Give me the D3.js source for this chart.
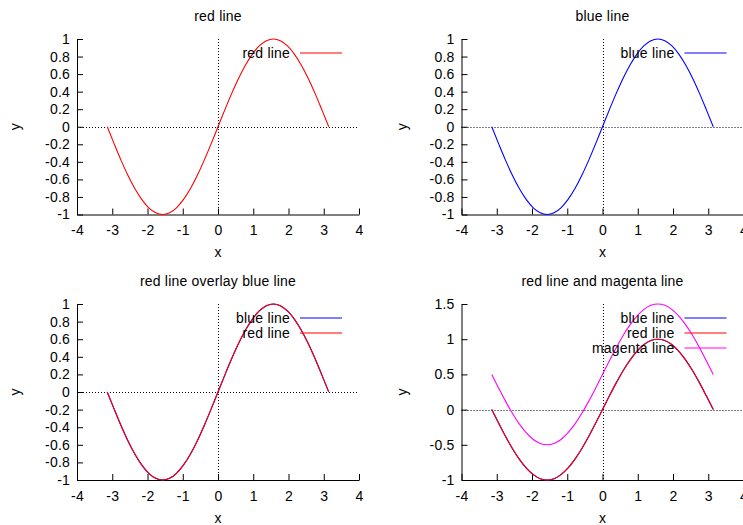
<!DOCTYPE html>
<meta charset="utf-8">
<script src="https://d3js.org/d3.v7.min.js"></script>
<style>
    body { margin: 0; background: white; }
    text { font-family: "Liberation Sans", Arial, sans-serif; font-size: 14px; letter-spacing: 0.2px; fill: #000; }
</style>
<div id="my_dataviz"></div>
<script>
    // sampled points of the curves (x from -pi to pi)
    var xVals = [-3.142, -2.945, -2.749, -2.553, -2.356, -2.160, -1.963, -1.767, -1.571, -1.374, -1.178, -0.982, -0.785, -0.589, -0.393, -0.196,
        0, 0.196, 0.393, 0.589, 0.785, 0.982, 1.178, 1.374, 1.571, 1.767, 1.963, 2.160, 2.356, 2.553, 2.749, 2.945, 3.142];
    var sinVals = [0, -0.195, -0.383, -0.556, -0.707, -0.831, -0.924, -0.981, -1, -0.981, -0.924, -0.831, -0.707, -0.556, -0.383, -0.195,
        0, 0.195, 0.383, 0.556, 0.707, 0.831, 0.924, 0.981, 1, 0.981, 0.924, 0.831, 0.707, 0.556, 0.383, 0.195, 0];
    var magentaVals = [0.5, 0.305, 0.117, -0.056, -0.207, -0.331, -0.424, -0.481, -0.5, -0.481, -0.424, -0.331, -0.207, -0.056, 0.117, 0.305,
        0.5, 0.695, 0.883, 1.056, 1.207, 1.331, 1.424, 1.481, 1.5, 1.481, 1.424, 1.331, 1.207, 1.056, 0.883, 0.695, 0.5];

    var titles = ["red line", "blue line", "red line overlay blue line", "red line and magenta line"];
    var xTicks = [-4, -3, -2, -1, 0, 1, 2, 3, 4];
    var yTicksA = [-1, -0.8, -0.6, -0.4, -0.2, 0, 0.2, 0.4, 0.6, 0.8, 1];
    var yTicksB = [-1, -0.5, 0, 0.5, 1, 1.5];

    var colors = { red: "#ff0000", blue: "#0000ff", magenta: "#ff00ff" };

    // one entry per panel: box in pixels, y domain, series to draw
    var panels = [
        { left: 77, right: 359, top: 39, bottom: 214.5, ylab: 15, yDomain: [-1, 1], yTicks: yTicksA,
          series: [{ name: "red line", color: colors.red, vals: sinVals }] },
        { left: 461.5, right: 743.5, top: 39, bottom: 214.5, ylab: 402, yDomain: [-1, 1], yTicks: yTicksA,
          series: [{ name: "blue line", color: colors.blue, vals: sinVals }] },
        { left: 77, right: 359, top: 304, bottom: 480, ylab: 15, yDomain: [-1, 1], yTicks: yTicksA,
          series: [{ name: "blue line", color: colors.blue, vals: sinVals },
                   { name: "red line", color: colors.red, vals: sinVals }] },
        { left: 461.5, right: 743.5, top: 304, bottom: 480, ylab: 402, yDomain: [-1, 1.5], yTicks: yTicksB,
          series: [{ name: "blue line", color: colors.blue, vals: sinVals },
                   { name: "red line", color: colors.red, vals: sinVals },
                   { name: "magenta line", color: colors.magenta, vals: magentaVals }] }
    ];

    var svg = d3.select("#my_dataviz")
        .append("svg")
        .attr("width", 743)
        .attr("height", 525);

    // gnuplot style labels: plain hyphen as minus sign
    var fmt = function(d) { return String(+d.toFixed(1)); };

    panels.forEach(function(p, i) {
        var x = d3.scaleLinear().domain([-4, 4]).range([p.left, p.right]);
        var y = d3.scaleLinear().domain(p.yDomain).range([p.bottom, p.top]);
        var g = svg.append("g");

        // title
        g.append("text")
            .attr("x", (p.left + p.right) / 2)
            .attr("y", p.top - 23)
            .attr("dy", "0.35em")
            .attr("text-anchor", "middle")
            .text(titles[i]);

        // zero axes (dotted)
        g.append("line")
            .attr("x1", p.left).attr("x2", p.right)
            .attr("y1", Math.round(y(0)) + 0.5).attr("y2", Math.round(y(0)) + 0.5)
            .style("stroke", "#000").style("stroke-dasharray", "1,2");
        g.append("line")
            .attr("x1", Math.round(x(0)) + 0.5).attr("x2", Math.round(x(0)) + 0.5)
            .attr("y1", p.top).attr("y2", p.bottom)
            .style("stroke", "#000").style("stroke-dasharray", "1,2");

        // axes, ticks pointing inward
        var xa = g.append("g")
            .attr("transform", "translate(0," + p.bottom + ")")
            .call(d3.axisBottom(x).tickValues(xTicks).tickSizeInner(-6).tickSizeOuter(0).tickPadding(11).tickFormat(fmt));
        var ya = g.append("g")
            .attr("transform", "translate(" + p.left + ",0)")
            .call(d3.axisLeft(y).tickValues(p.yTicks).tickSizeInner(-6).tickSizeOuter(0).tickPadding(7).tickFormat(fmt));
        [xa, ya].forEach(function(a) {
            a.selectAll("text").style("font-size", "14px").style("font-family", "Liberation Sans, Arial, sans-serif").style("fill", "#000");
            a.selectAll("line, path").style("stroke", "#000");
        });

        // axis labels
        g.append("text")
            .attr("x", (p.left + p.right) / 2)
            .attr("y", p.bottom + 38)
            .attr("dy", "0.35em")
            .attr("text-anchor", "middle")
            .text("x");
        g.append("text")
            .attr("transform", "translate(" + p.ylab + "," + (p.top + p.bottom) / 2 + ") rotate(-90)")
            .attr("dy", "0.35em")
            .attr("text-anchor", "middle")
            .text("y");

        // curves
        var line = d3.line()
            .x(function(d) { return x(d[0]); })
            .y(function(d) { return y(d[1]); })
            .curve(d3.curveMonotoneX);
        p.series.forEach(function(s) {
            var pts = xVals.map(function(v, k) { return [v, s.vals[k]]; });
            g.append("path")
                .datum(pts)
                .attr("d", line)
                .style("fill", "none")
                .style("stroke", s.color)
                .style("stroke-width", 1.1);
        });

        // legend
        p.series.forEach(function(s, k) {
            var ly = p.top + 14 + k * 15;
            g.append("text")
                .attr("x", p.right - 69)
                .attr("y", ly)
                .attr("dy", "0.35em")
                .attr("text-anchor", "end")
                .text(s.name);
            g.append("line")
                .attr("x1", p.right - 59).attr("x2", p.right - 17)
                .attr("y1", ly).attr("y2", ly)
                .style("stroke", s.color)
                .style("stroke-width", 1.1);
        });
    });
</script>
